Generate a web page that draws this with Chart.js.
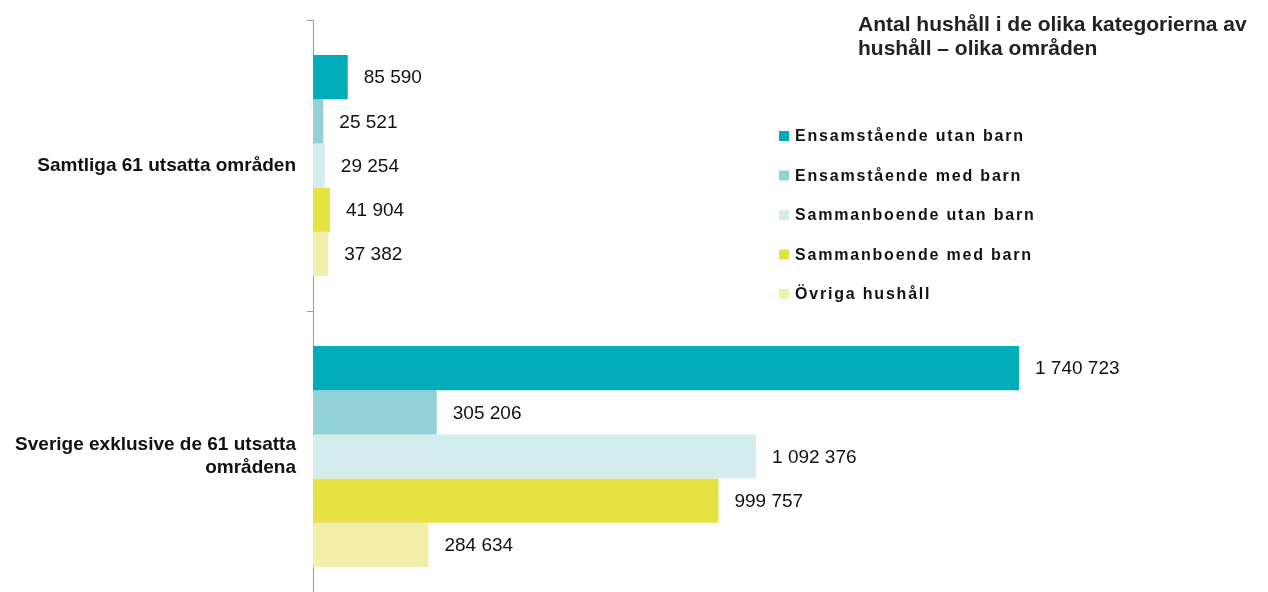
<!DOCTYPE html>
<html>
<head>
<meta charset="utf-8">
<script src="https://cdn.jsdelivr.net/npm/chart.js@4/dist/chart.umd.min.js"></script>
<style>
  html, body { margin: 0; padding: 0; background: #fff; overflow: hidden; }
  #wrap { position: relative; width: 1268px; height: 602px; }
</style>
</head>
<body>
<div id="wrap"><canvas id="hushall"></canvas></div>
<script>
const categories = [
  "Samtliga 61 utsatta områden",
  ["Sverige exklusive de 61 utsatta", "områdena"],
];
const seriesNames = [
  "Ensamstående utan barn",
  "Ensamstående med barn",
  "Sammanboende utan barn",
  "Sammanboende med barn",
  "Övriga hushåll",
];
const ensamUtan = [85590, 1740723];
const ensamMed = [25521, 305206];
const sambUtan = [29254, 1092376];
const sambMed = [41904, 999757];
const ovriga = [37382, 284634];
const titleLines = ["Antal hushåll i de olika kategorierna av", "hushåll – olika områden"];

const colors = ["#00abba", "#93d1d8", "#d3ecee", "#e6e244", "#f2efaa"];
const font = "'Liberation Sans', Arial, sans-serif";

const fmt = (v) => String(v).replace(/\B(?=(\d{3})+(?!\d))/g, " ");

const valueLabels = {
  id: "valueLabels",
  afterDatasetsDraw(chart) {
    const ctx = chart.ctx;
    ctx.save();
    ctx.font = "19px " + font;
    ctx.fillStyle = "#111";
    ctx.textBaseline = "middle";
    chart.data.datasets.forEach((ds, i) => {
      chart.getDatasetMeta(i).data.forEach((bar, j) => {
        ctx.fillText(fmt(ds.data[j]), bar.x + 16, bar.y + 1);
      });
    });
    ctx.restore();
  },
};

const sideLegend = {
  id: "sideLegend",
  afterDraw(chart) {
    const ctx = chart.ctx;
    ctx.save();
    ctx.textBaseline = "middle";
    ctx.font = "bold 16px " + font;
    ctx.letterSpacing = "1.8px";
    chart.data.datasets.forEach((ds, i) => {
      const y = 136 + i * 39.5;
      ctx.fillStyle = ds.backgroundColor;
      ctx.fillRect(779, y - 5, 10, 10);
      ctx.fillStyle = "#111";
      ctx.fillText(ds.label, 795, y + 1);
    });
    ctx.letterSpacing = "0px";
    ctx.font = "bold 21px " + font;
    ctx.fillStyle = "#222";
    titleLines.forEach((line, i) => ctx.fillText(line, 858, 25 + i * 24));
    ctx.restore();
  },
};

const datasets = [ensamUtan, ensamMed, sambUtan, sambMed, ovriga].map((data, i) => ({
  label: seriesNames[i],
  data,
  backgroundColor: colors[i],
  borderWidth: 0,
  barPercentage: 1,
  categoryPercentage: 0.76,
}));

new Chart(document.getElementById("hushall"), {
  type: "bar",
  data: { labels: categories, datasets },
  options: {
    indexAxis: "y",
    responsive: true,
    maintainAspectRatio: false,
    animation: false,
    layout: { padding: { top: 20, right: 10, bottom: 0, left: 0 } },
    plugins: { legend: { display: false }, tooltip: { enabled: false } },
    scales: {
      x: { display: false, min: 0, max: 2330000 },
      y: {
        afterFit: (axis) => {
          axis.width = 313;
          axis.paddingTop = 0;
          axis.paddingBottom = 0;
        },
        border: { color: "#999", width: 1 },
        grid: { drawOnChartArea: false, offset: true, tickLength: 6, color: "#999" },
        ticks: {
          color: "#111",
          padding: 11,
          font: { family: font, size: 19, weight: "bold", lineHeight: 1.2 },
        },
      },
    },
  },
  plugins: [valueLabels, sideLegend],
});
</script>
</body>
</html>
